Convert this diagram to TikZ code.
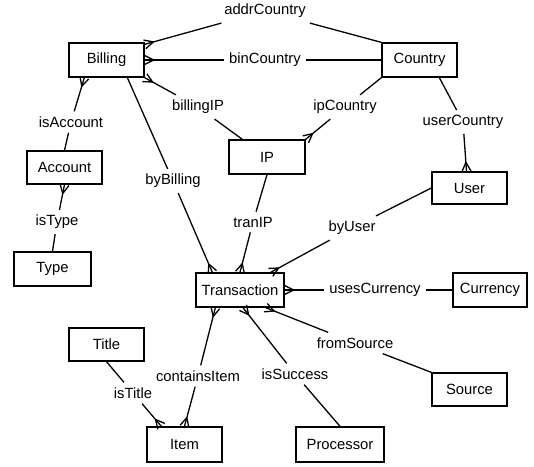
\documentclass[tikz,border=0pt]{standalone}
\usepackage{fontspec}
\setmainfont{Liberation Sans}
\usetikzlibrary{arrows.meta}
\pgfdeclarearrow{
  name = crow,
  setup code = {
    \pgfarrowssettipend{0pt}
    \pgfarrowssetlineend{0pt}
    \pgfarrowssetbackend{-9pt}
    \pgfarrowssetvisualbackend{-9pt}
    \pgfarrowshullpoint{0pt}{4.5pt}
    \pgfarrowshullpoint{0pt}{-4.5pt}
    \pgfarrowshullpoint{-9pt}{0pt}
  },
  drawing code = {
    \pgfsetdash{}{0pt}
    \pgfsetroundjoin
    \pgfpathmoveto{\pgfqpoint{0pt}{4.5pt}}
    \pgfpathlineto{\pgfqpoint{-9pt}{0pt}}
    \pgfpathlineto{\pgfqpoint{0pt}{-4.5pt}}
    \pgfusepathqstroke
  },
}
\begin{document}
\begin{tikzpicture}[x=1pt,y=-1pt,
  ent/.style={draw, line width=1.3pt, minimum width=75pt, minimum height=34pt, inner sep=0pt, font=\fontsize{14.8}{17}\selectfont},
  rel/.style={inner sep=5pt, font=\fontsize{14.8}{17}\selectfont},
  link/.style={line width=1.3pt},
  manyA/.style={link,{crow}-}]
\useasboundingbox (0,0) rectangle (534,466);
% entities
\node[ent] (Billing) at (106.5,60) {Billing};
\node[ent] (Country) at (419.5,60) {Country};
\node[ent, minimum height=33pt] (Account) at (64.5,167.5) {Account};
\node[ent, minimum width=77pt] (Type) at (52.5,269) {Type};
\node[ent, minimum width=76pt] (IP) at (267,157) {IP};
\node[ent, minimum height=32pt] (User) at (469.5,188) {User};
\node[ent, minimum width=88pt] (Transaction) at (240,290) {Transaction};
\node[ent, minimum width=74pt] (Currency) at (490,290) {Currency};
\node[ent, minimum height=33pt] (Source) at (469.5,389.5) {Source};
\node[ent, minimum width=88pt, minimum height=35pt] (Processor) at (340,444.5) {Processor};
\node[ent, minimum height=33pt] (Title) at (106.5,344.5) {Title};
\node[ent, minimum height=35pt] (Item) at (184.5,444.5) {Item};
% relation labels
\node[rel] (addrCountry) at (265,11) {addrCountry};
\node[rel] (binCountry) at (265,60) {binCountry};
\node[rel] (billingIP) at (198,107) {billingIP};
\node[rel] (ipCountry) at (345,107) {ipCountry};
\node[rel] (isAccount) at (71,122) {isAccount};
\node[rel] (userCountry) at (463,122) {userCountry};
\node[rel] (isType) at (57,222) {isType};
\node[rel] (byBilling) at (173,181) {byBilling};
\node[rel] (tranIP) at (253,222) {tranIP};
\node[rel] (byUser) at (352,228) {byUser};
\node[rel] (usesCurrency) at (375,290) {usesCurrency};
\node[rel] (fromSource) at (355,343) {fromSource};
\node[rel] (isSuccess) at (295,374) {isSuccess};
\node[rel] (containsItem) at (198,376) {containsItem};
\node[rel] (isTitle) at (133,393) {isTitle};
% connectors (crow's foot at the "many" end)
\draw[manyA] ([yshift=-2pt]Billing.north east) -- (addrCountry);
\draw[link] (addrCountry) -- (Country.north west);
\draw[manyA] (Billing.east) -- (binCountry);
\draw[link] (binCountry) -- (Country.west);
\draw[manyA] (Billing.south east) -- (billingIP);
\draw[link] (billingIP) -- ([xshift=14pt]IP.north west);
\draw[manyA] (IP.north east) -- (ipCountry);
\draw[link] (ipCountry) -- (Country.south west);
\draw[manyA] ([xshift=16pt]Billing.south west) -- (isAccount);
\draw[link] (isAccount) -- (Account.north);
\draw[manyA] (Account.south) -- (isType);
\draw[link] (isType) -- (Type.north);
\draw[manyA] ([xshift=17pt]Transaction.north west) -- (byBilling);
\draw[link] (byBilling) -- ([xshift=59pt]Billing.south west);
\draw[manyA] (Transaction.north) -- (tranIP);
\draw[link] (tranIP) -- (IP.south);
\draw[manyA] ([xshift=-3pt]User.north) -- (userCountry);
\draw[link] (userCountry) -- ([xshift=58pt]Country.south west);
\draw[manyA] ([xshift=-14pt]Transaction.north east) -- (byUser);
\draw[link] (byUser) -- (User.west);
\draw[manyA] (Transaction.east) -- (usesCurrency);
\draw[link] (usesCurrency) -- (Currency.west);
\draw[manyA] ([xshift=-19pt]Transaction.south east) -- (fromSource);
\draw[link] (fromSource) -- (Source.north west);
\draw[manyA] ([xshift=3pt]Transaction.south) -- (isSuccess);
\draw[link] (isSuccess) -- (Processor.north);
\draw[manyA] ([xshift=20pt]Transaction.south west) -- (containsItem);
\draw[manyA] (Item.north) -- (containsItem);
\draw[manyA] ([xshift=15pt]Item.north west) -- (isTitle);
\draw[link] (isTitle) -- (Title.south);
\end{tikzpicture}
\end{document}
